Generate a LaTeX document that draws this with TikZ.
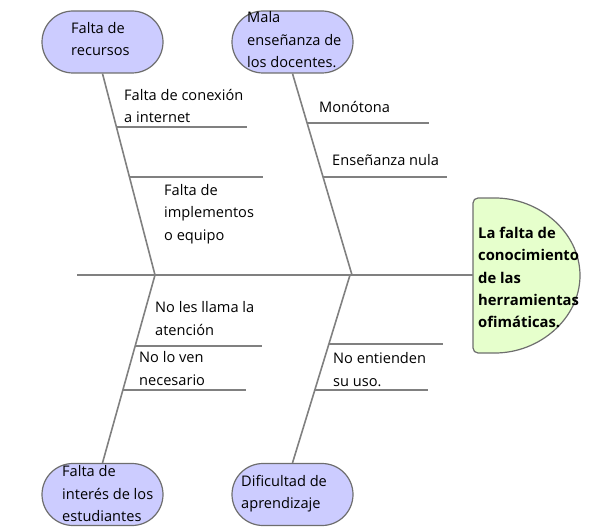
\documentclass[tikz,border=0pt]{standalone}
\usepackage{fontspec}
\setmainfont{Open Sans}
\usetikzlibrary{positioning}
\definecolor{colCausa}{RGB}{204,204,255}
\definecolor{colEfecto}{RGB}{230,255,204}
\definecolor{colHueso}{RGB}{128,128,128}
\definecolor{colBorde}{RGB}{110,110,110}
\tikzset{
  hueso/.style={draw=colHueso, line width=1.6pt},
  causa/.style={draw=colBorde, line width=1.2pt, fill=colCausa, rounded corners=31pt,
    minimum width=121pt, minimum height=62pt, inner sep=0pt},
  texto/.style={anchor=west, align=left, inner sep=0pt, font=\fontsize{14.6}{22.5}\selectfont},
}
\begin{document}
\begin{tikzpicture}[x=1pt,y=-1pt]
        \useasboundingbox (0,0) rectangle (605,527);
        %% head
        \draw[draw=colBorde, line width=1.2pt, fill=colEfecto, rounded corners=5pt]
            (490,198) arc[start angle=-90, end angle=90, x radius=90, y radius=77.5]
            -- (473,353) -- (473,198) -- cycle;
        \coordinate (cabeza) at (473,275);
        \node[texto, font=\fontsize{14.8}{22.3}\selectfont\bfseries] (efecto) at (478,277.5)
            {La falta de\\conocimiento\\de las\\herramientas\\ofimáticas.};
        %% causes
        \node[causa] (recursos) at (102.5,42) {};
        \node[causa] (ensenanza) at (292.5,42) {};
        \node[causa] (interes) at (102.5,494.5) {};
        \node[causa] (aprendizaje) at (292.5,494.5) {};
        \node[texto] (tRecursos) at (71,39) {Falta de\\recursos};
        \node[texto] (tEnsenanza) at (247,40) {Mala\\enseñanza de\\los docentes.};
        \node[texto] (tInteres) at (62,494) {Falta de\\interés de los\\estudiantes};
        \node[texto] (tAprendizaje) at (241,493.5) {Dificultad de\\aprendizaje};
        %% spine and bones
        \coordinate (cola) at (77,275);
        \coordinate (e1) at (155,275);
        \coordinate (e2) at (352,275);
        \coordinate (e3) at (155,275);
        \coordinate (e4) at (350,275);
        \draw[hueso] (cola) -- (cabeza);
        \draw[hueso] (recursos.south) -- (e1);
        \draw[hueso] (ensenanza.south) -- (e2);
        \draw[hueso] (e3) -- (interes.north);
        \draw[hueso] (e4) -- (aprendizaje.north);
        %% ribs
        \foreach \a/\b/\y in {117/247/127,130/263/177,307/429/123,323/447/177,
                              135/262/346,123/246/390,329/443/344,314/428/390} {
            \draw[hueso] (\a,\y) -- (\b,\y);
        }
        %% labels
        \node[texto] (conexion) at (124,106) {Falta de conexión\\a internet};
        \node[texto] (implementos) at (164,214) {Falta de\\implementos\\o equipo};
        \node[texto] (monotona) at (319,107) {Monótona};
        \node[texto] (nula) at (332,160) {Enseñanza nula};
        \node[texto] (atencion) at (155,318.5) {No les llama la\\atención};
        \node[texto] (necesario) at (139,368.5) {No lo ven\\necesario};
        \node[texto] (uso) at (333,369.5) {No entienden\\su uso.};
    \end{tikzpicture}
\end{document}
